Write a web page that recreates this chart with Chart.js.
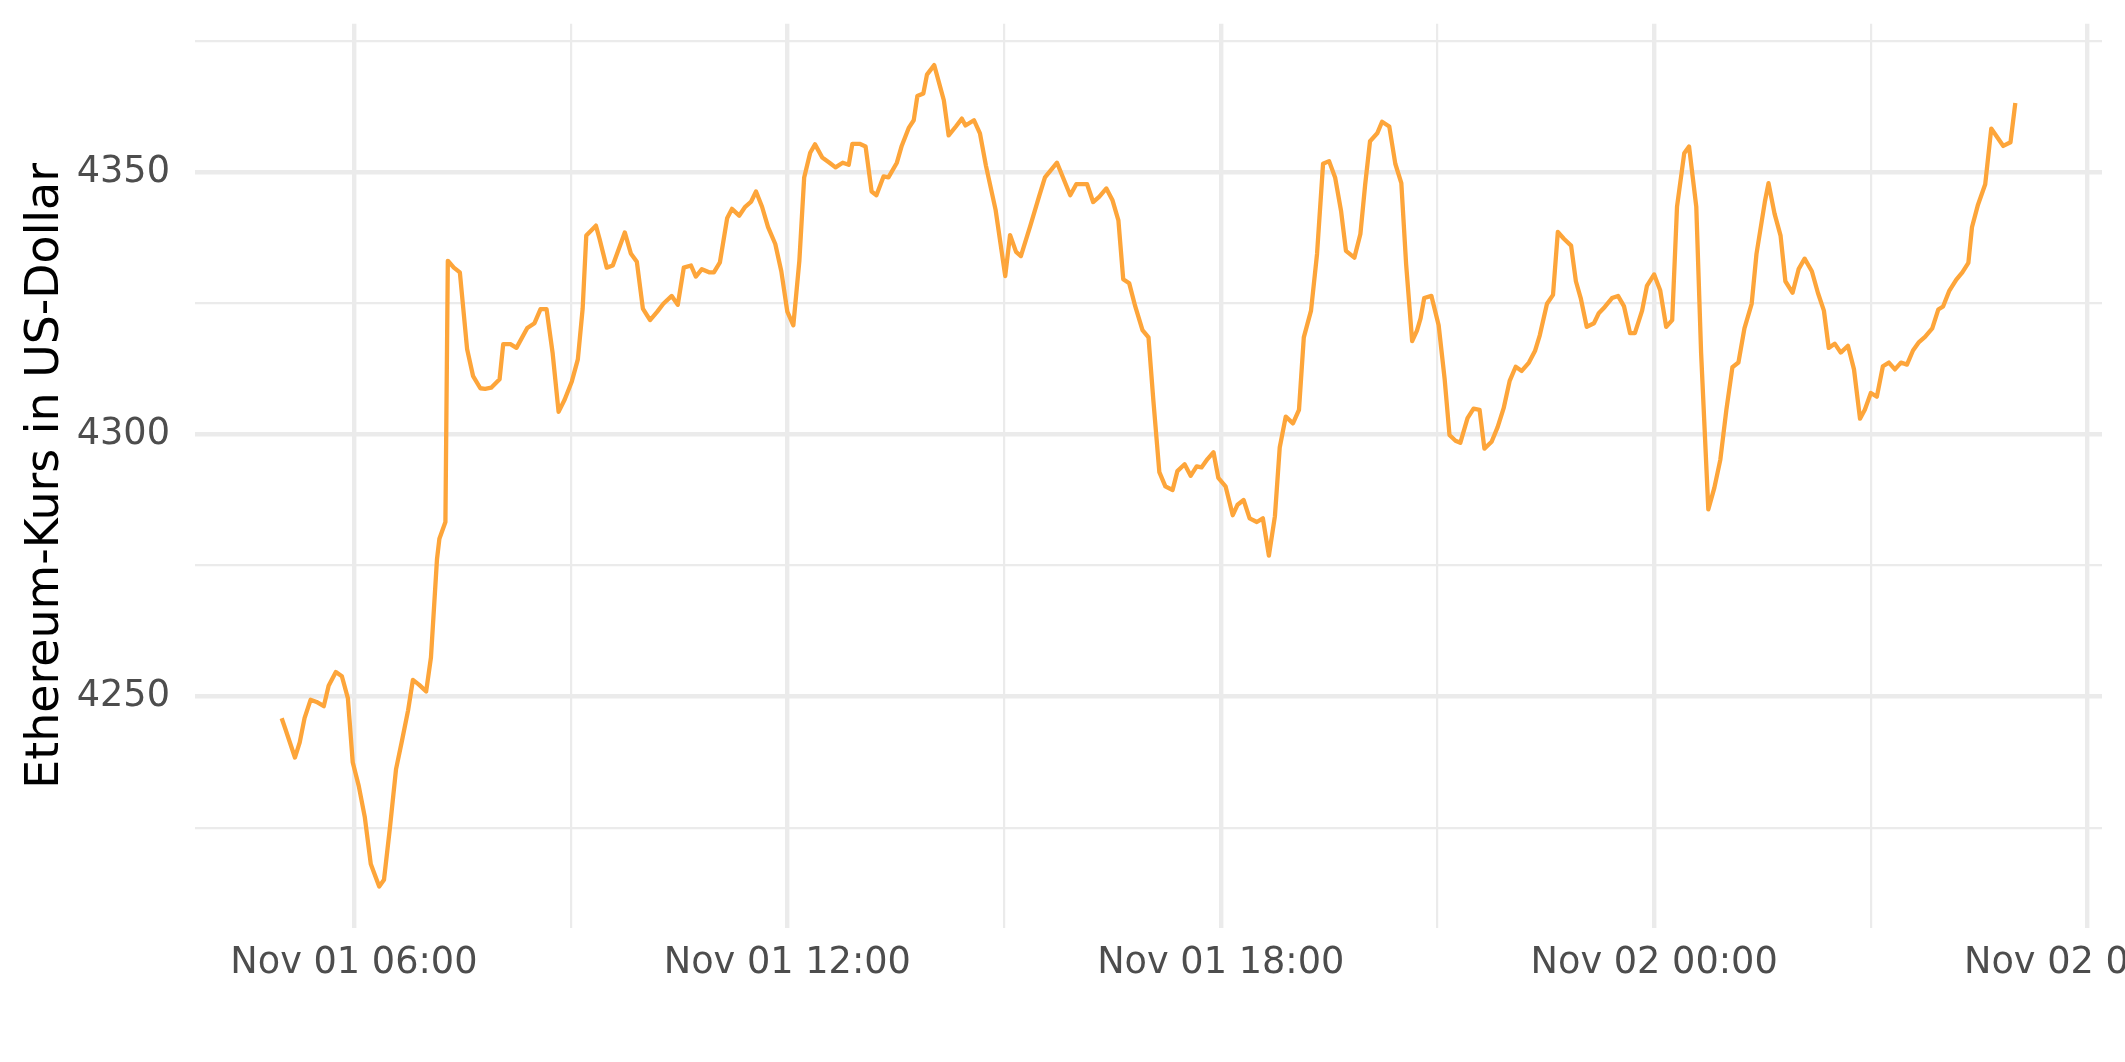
<!DOCTYPE html>
<html>
<head>
<meta charset="utf-8">
<script src="https://cdn.jsdelivr.net/npm/chart.js@4.4.1/dist/chart.umd.min.js"></script>
<style>
html,body{margin:0;padding:0;background:#ffffff;overflow:hidden;}
canvas{display:block;}
</style>
</head>
<body>
<canvas id="c" width="2125" height="1062"></canvas>
<script>
// Timestamps ("DD HH:MM", November) and Ethereum prices in USD
const times = [
"01 05:00","01 05:03","01 05:11","01 05:15","01 05:19","01 05:24","01 05:29","01 05:35","01 05:39","01 05:45",
"01 05:50","01 05:55","01 05:59","01 06:04","01 06:09","01 06:14","01 06:21","01 06:25","01 06:30","01 06:35",
"01 06:40","01 06:45","01 06:49","01 06:54","01 07:00","01 07:04","01 07:09","01 07:11","01 07:16","01 07:18",
"01 07:23","01 07:28","01 07:34","01 07:39","01 07:45","01 07:49","01 07:54","01 08:01","01 08:04","01 08:10",
"01 08:15","01 08:24","01 08:30","01 08:35","01 08:40","01 08:45","01 08:50","01 08:55","01 09:01","01 09:06",
"01 09:10","01 09:13","01 09:21","01 09:24","01 09:30","01 09:35","01 09:45","01 09:50","01 09:55","01 10:00",
"01 10:06","01 10:12","01 10:17","01 10:24","01 10:29","01 10:34","01 10:40","01 10:44","01 10:49","01 10:55",
"01 10:59","01 11:04","01 11:10","01 11:14","01 11:20","01 11:25","01 11:30","01 11:34","01 11:39","01 11:44",
"01 11:50","01 11:55","01 12:00","01 12:05","01 12:10","01 12:14","01 12:19","01 12:23","01 12:29","01 12:35",
"01 12:40","01 12:46","01 12:51","01 12:54","01 13:00","01 13:05","01 13:10","01 13:14","01 13:20","01 13:24",
"01 13:31","01 13:35","01 13:41","01 13:45","01 13:48","01 13:53","01 13:56","01 14:02","01 14:10","01 14:14",
"01 14:20","01 14:25","01 14:28","01 14:35","01 14:40","01 14:45","01 14:53","01 15:01","01 15:05","01 15:10",
"01 15:14","01 15:22","01 15:29","01 15:34","01 15:44","01 15:55","01 16:00","01 16:09","01 16:14","01 16:19",
"01 16:25","01 16:30","01 16:35","01 16:39","01 16:44","01 16:49","01 16:55","01 17:00","01 17:04","01 17:09",
"01 17:14","01 17:20","01 17:24","01 17:30","01 17:35","01 17:40","01 17:44","01 17:49","01 17:54","01 17:58",
"01 18:04","01 18:10","01 18:14","01 18:19","01 18:24","01 18:30","01 18:35","01 18:40","01 18:45","01 18:49",
"01 18:54","01 19:00","01 19:05","01 19:09","01 19:15","01 19:20","01 19:25","01 19:30","01 19:35","01 19:40",
"01 19:44","01 19:51","01 19:56","01 20:00","01 20:04","01 20:10","01 20:14","01 20:20","01 20:25","01 20:30",
"01 20:34","01 20:39","01 20:43","01 20:46","01 20:49","01 20:55","01 21:01","01 21:06","01 21:10","01 21:15",
"01 21:19","01 21:25","01 21:30","01 21:35","01 21:39","01 21:45","01 21:50","01 21:55","01 22:00","01 22:05",
"01 22:10","01 22:16","01 22:21","01 22:25","01 22:31","01 22:36","01 22:40","01 22:45","01 22:51","01 22:55",
"01 22:59","01 23:04","01 23:10","01 23:14","01 23:19","01 23:25","01 23:30","01 23:35","01 23:40","01 23:44",
"01 23:50","01 23:54","02 00:00","02 00:05","02 00:10","02 00:15","02 00:19","02 00:25","02 00:29","02 00:35",
"02 00:39","02 00:45","02 00:50","02 00:55","02 01:00","02 01:05","02 01:10","02 01:15","02 01:21","02 01:25",
"02 01:32","02 01:35","02 01:40","02 01:45","02 01:49","02 01:55","02 02:00","02 02:05","02 02:11","02 02:16",
"02 02:21","02 02:25","02 02:30","02 02:35","02 02:41","02 02:46","02 02:51","02 02:55","02 03:00","02 03:05",
"02 03:10","02 03:15","02 03:20","02 03:25","02 03:30","02 03:35","02 03:40","02 03:45","02 03:51","02 03:56",
"02 04:00","02 04:05","02 04:11","02 04:16","02 04:21","02 04:24","02 04:29","02 04:35","02 04:40","02 04:44",
"02 04:50","02 04:56","02 05:00"
];
const prices = [
4245.9,4243.9,4238.4,4241.3,4245.9,4249.4,4249.0,4248.2,4252.1,4254.7,
4253.9,4249.7,4237.5,4233.0,4227.1,4218.1,4213.8,4215.1,4225.2,4236.2,
4241.7,4247.4,4253.2,4252.3,4251.0,4257.5,4276.2,4280.1,4283.3,4333.1,
4331.8,4330.9,4316.3,4311.1,4308.8,4308.7,4308.9,4310.5,4317.2,4317.2,
4316.5,4320.3,4321.2,4323.9,4323.9,4315.6,4304.3,4306.6,4310.1,4314.3,
4324.0,4337.9,4339.8,4337.3,4331.8,4332.2,4338.5,4334.5,4332.9,4324.0,
4321.8,4323.4,4324.9,4326.4,4324.7,4331.8,4332.2,4330.1,4331.5,4330.9,
4330.9,4332.8,4341.2,4343.0,4341.7,4343.4,4344.4,4346.3,4343.4,4339.5,
4336.3,4331.1,4323.4,4320.8,4333.1,4349.0,4353.7,4355.3,4352.8,4351.8,
4350.9,4351.8,4351.4,4355.4,4355.4,4354.9,4346.3,4345.6,4349.2,4349.0,
4351.8,4355.0,4358.5,4359.9,4364.5,4365.0,4368.6,4370.4,4363.7,4357.0,
4358.7,4360.2,4358.9,4359.9,4357.4,4351.2,4342.8,4330.2,4338.0,4334.8,
4334.0,4339.9,4345.3,4349.0,4351.8,4345.6,4347.7,4347.7,4344.3,4345.3,
4346.9,4344.7,4340.8,4329.6,4328.8,4324.4,4319.9,4318.5,4306.6,4292.8,
4290.1,4289.4,4293.0,4294.3,4292.1,4293.9,4293.7,4295.3,4296.6,4291.7,
4290.1,4284.6,4286.6,4287.5,4284.0,4283.3,4284.0,4276.9,4284.4,4297.5,
4303.4,4302.1,4304.7,4318.5,4323.6,4334.4,4351.6,4352.1,4349.0,4342.5,
4335.0,4333.7,4338.2,4347.7,4355.9,4357.4,4359.6,4358.7,4351.6,4347.9,
4332.4,4317.8,4319.8,4322.1,4326.0,4326.4,4320.8,4310.5,4299.9,4298.8,
4298.4,4303.1,4304.9,4304.7,4297.3,4298.6,4301.4,4305.0,4310.2,4312.9,
4312.1,4313.7,4315.9,4318.9,4324.9,4326.6,4338.6,4337.3,4336.0,4329.2,
4326.0,4320.5,4321.2,4323.1,4324.3,4326.0,4326.4,4324.4,4319.3,4319.3,
4323.6,4328.3,4330.5,4327.5,4320.5,4321.8,4343.4,4353.6,4354.9,4343.4,
4315.6,4285.7,4289.8,4295.2,4304.7,4312.8,4313.7,4320.2,4324.9,4334.4,
4344.4,4347.9,4342.1,4337.9,4329.2,4327.0,4331.5,4333.5,4331.1,4327.0,
4323.6,4316.5,4317.3,4315.6,4316.9,4312.4,4303.0,4304.7,4307.9,4307.2,
4313.0,4313.7,4312.4,4313.7,4313.3,4316.0,4317.6,4318.6,4320.2,4323.8,
4324.4,4327.3,4329.5,4330.9,4332.7,4339.5,4343.8,4347.7,4358.3,4357.0,
4355.0,4355.7,4363.2
];

// Axis ticks (hours since Nov 01 00:00) and labels
const xMajorTicks  = [6, 12, 18, 24, 30];
const xMajorLabels = ["Nov 01 06:00", "Nov 01 12:00", "Nov 01 18:00", "Nov 02 00:00", "Nov 02 06:00"];
const xMinorTicks  = [9, 15, 21, 27];
const yMajorTicks  = [4250, 4300, 4350];
const yMinorTicks  = [4225, 4275, 4325, 4375];
const yTitle = "Ethereum-Kurs in US-Dollar";
const xRange = [3.8, 30.2];
const yRange = [4205.9, 4378.3];

const FONT = "'DejaVu Sans', sans-serif";
function toHours(s) {
  const [d, hm] = s.split(" ");
  const [h, m] = hm.split(":");
  return (parseInt(d, 10) - 1) * 24 + parseInt(h, 10) + parseInt(m, 10) / 60;
}
const points = times.map((t, i) => ({ x: toHours(t), y: prices[i] }));
const near = (a, b) => Math.abs(a - b) < 1e-6;

new Chart(document.getElementById("c"), {
  type: "line",
  data: {
    datasets: [{
      data: points,
      borderColor: "#FDA53A",
      borderWidth: 4.3,
      pointRadius: 0,
      tension: 0,
      fill: false,
      borderJoinStyle: "round",
      borderCapStyle: "butt"
    }]
  },
  options: {
    responsive: false,
    animation: false,
    devicePixelRatio: 1,
    layout: { padding: { left: 0, right: 23, top: 23.7, bottom: 0 } },
    plugins: { legend: { display: false }, tooltip: { enabled: false } },
    scales: {
      x: {
        type: "linear",
        min: xRange[0],
        max: xRange[1],
        border: { display: false },
        grid: {
          color: "#EBEBEB",
          drawTicks: false,
          lineWidth: c => (c.tick && xMajorTicks.some(v => near(v, c.tick.value))) ? 4.4 : 2.2
        },
        ticks: {
          autoSkip: false, maxRotation: 0, minRotation: 0, padding: 13,
          color: "#4D4D4D",
          font: { family: FONT, size: 36.67, lineHeight: 1.2 },
          callback: v => {
            const i = xMajorTicks.findIndex(t => near(t, v));
            return i >= 0 ? xMajorLabels[i] : "";
          }
        },
        afterBuildTicks: s => {
          s.ticks = xMajorTicks.concat(xMinorTicks).sort((a, b) => a - b).map(v => ({ value: v }));
        },
        afterFit: s => { s.height = 134; s.paddingLeft = 0; s.paddingRight = 0; }
      },
      y: {
        type: "linear",
        min: yRange[0],
        max: yRange[1],
        border: { display: false },
        grid: {
          color: "#EBEBEB",
          drawTicks: false,
          lineWidth: c => (c.tick && yMajorTicks.some(v => near(v, c.tick.value))) ? 4.4 : 2.2
        },
        ticks: {
          padding: 25,
          color: "#4D4D4D",
          font: { family: FONT, size: 36.67, lineHeight: 1.2 },
          callback: v => yMajorTicks.some(t => near(t, v)) ? String(v) : ""
        },
        title: {
          display: true,
          text: yTitle,
          color: "#000000",
          font: { family: FONT, size: 45.83, lineHeight: 1 },
          padding: { top: 23, bottom: 0 }
        },
        afterBuildTicks: s => {
          s.ticks = yMajorTicks.concat(yMinorTicks).sort((a, b) => a - b).map(v => ({ value: v }));
        },
        afterFit: s => { s.width = 195; s.paddingTop = 0; s.paddingBottom = 0; }
      }
    }
  }
});
</script>
</body>
</html>
